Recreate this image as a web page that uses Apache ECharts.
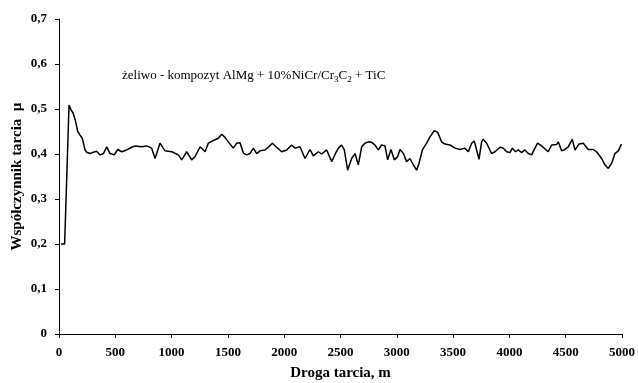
<!DOCTYPE html>
<html>
<head>
<meta charset="utf-8">
<script src="https://cdn.jsdelivr.net/npm/echarts@6/dist/echarts.min.js"></script>
<style>
  html, body { margin: 0; padding: 0; background: #fff; }
  #main { width: 638px; height: 383px; }
</style>
</head>
<body>
<div id="main"></div>
<script>
// droga tarcia [m]
const distance = [
  18, 50, 89, 107, 127, 148, 166, 187, 207, 231, 246, 275, 305, 335, 364, 394, 424, 453, 491, 521,
  557, 601, 646, 675, 734, 778, 823, 853, 897, 941, 1001, 1060, 1090, 1134, 1178, 1208, 1253, 1297,
  1326, 1371, 1415, 1445, 1474, 1504, 1548, 1578, 1608, 1637, 1667, 1696, 1726, 1756, 1785, 1830,
  1859, 1895, 1933, 1978, 2022, 2066, 2096, 2140, 2185, 2229, 2259, 2303, 2333, 2377, 2422, 2451,
  2481, 2510, 2534, 2563, 2599, 2629, 2658, 2688, 2717, 2747, 2777, 2806, 2836, 2865, 2895, 2919,
  2948, 2978, 3007, 3028, 3058, 3087, 3117, 3147, 3176, 3197, 3227, 3265, 3295, 3333, 3363, 3398,
  3428, 3472, 3517, 3561, 3605, 3635, 3665, 3688, 3709, 3730, 3753, 3768, 3798, 3842, 3872, 3916,
  3946, 3975, 4005, 4026, 4055, 4079, 4108, 4138, 4168, 4197, 4227, 4250, 4286, 4322, 4345, 4375,
  4419, 4434, 4464, 4493, 4523, 4558, 4582, 4618, 4656, 4700, 4745, 4774, 4819, 4848, 4878, 4908,
  4937, 4967, 4996
];
// współczynnik tarcia
const friction = [
  0.200, 0.200, 0.509, 0.498, 0.490, 0.472, 0.450, 0.442, 0.435, 0.409, 0.404, 0.401, 0.404, 0.406, 0.398, 0.401, 0.416, 0.401, 0.398, 0.410,
  0.405, 0.409, 0.415, 0.418, 0.416, 0.418, 0.413, 0.390, 0.424, 0.407, 0.405, 0.398, 0.387, 0.405, 0.387, 0.394, 0.416, 0.405,
  0.424, 0.430, 0.435, 0.444, 0.437, 0.427, 0.413, 0.424, 0.425, 0.402, 0.398, 0.401, 0.413, 0.401, 0.407, 0.409,
  0.415, 0.424, 0.415, 0.405, 0.409, 0.420, 0.413, 0.416, 0.390, 0.410, 0.396, 0.405, 0.400, 0.409, 0.383, 0.399,
  0.413, 0.420, 0.409, 0.364, 0.390, 0.401, 0.376, 0.416, 0.424, 0.427, 0.426, 0.420, 0.409, 0.420, 0.418, 0.387,
  0.410, 0.387, 0.394, 0.410, 0.401, 0.383, 0.390, 0.376, 0.364, 0.379, 0.409, 0.424, 0.438, 0.452, 0.448, 0.427,
  0.422, 0.420, 0.413, 0.410, 0.413, 0.405, 0.424, 0.429, 0.409, 0.388, 0.427, 0.433, 0.424, 0.401, 0.405, 0.415,
  0.413, 0.405, 0.403, 0.413, 0.405, 0.409, 0.403, 0.409, 0.401, 0.398, 0.413, 0.424, 0.418, 0.410, 0.405, 0.420,
  0.421, 0.427, 0.407, 0.410, 0.416, 0.433, 0.409, 0.422, 0.424, 0.410, 0.410, 0.405, 0.390, 0.376, 0.368, 0.379,
  0.401, 0.407, 0.422
];
const yTickLabels = ['0', '0,1', '0,2', '0,3', '0,4', '0,5', '0,6', '0,7'];

const chart = echarts.init(document.getElementById('main'));

const serif = '"Liberation Serif", "Times New Roman", serif';

const option = {
  animation: false,
  backgroundColor: '#fff',
  grid: { left: 59, right: 16, top: 19, bottom: 49, containLabel: false, outerBoundsMode: 'none' },
  xAxis: {
    type: 'value',
    min: 0,
    max: 5000,
    interval: 500,
    name: 'Droga tarcia, m',
    nameLocation: 'middle',
    nameGap: 32,
    nameMoveOverlap: false,
    nameTextStyle: { fontFamily: serif, fontWeight: 'bold', fontSize: 15, color: '#000' },
    axisLine: { lineStyle: { color: '#000', width: 1 } },
    axisTick: { show: true, length: 4, lineStyle: { color: '#000' } },
    axisLabel: {
      fontFamily: serif, fontWeight: 'bold', fontSize: 13, color: '#000', margin: 12,
      formatter: function (v) { return String(v); }
    },
    splitLine: { show: false }
  },
  yAxis: {
    type: 'value',
    min: 0,
    max: 0.7,
    interval: 0.1,
    name: 'Współczynnik tarcia  µ',
    nameLocation: 'middle',
    nameGap: 34,
    nameMoveOverlap: false,
    nameTextStyle: { fontFamily: serif, fontWeight: 'bold', fontSize: 15, color: '#000' },
    axisLine: { show: true, lineStyle: { color: '#000', width: 1 } },
    axisTick: { show: true, length: 4, lineStyle: { color: '#000' } },
    axisLabel: {
      fontFamily: serif, fontWeight: 'bold', fontSize: 13, color: '#000', margin: 12,
      formatter: function (v) { return yTickLabels[Math.round(v * 10)]; }
    },
    splitLine: { show: false }
  },
  graphic: [
    {
      type: 'text',
      left: 122,
      top: 67,
      style: {
        text: '{a|żeliwo - kompozyt AlMg + 10%NiCr/Cr}{s|3}{a|C}{s|2}{a| + TiC}',
        rich: {
          a: { fontFamily: serif, fontSize: 13, color: '#000', lineHeight: 18 },
          s: { fontFamily: serif, fontSize: 9, color: '#000', lineHeight: 18, padding: [8, 0, 0, 0] }
        }
      }
    }
  ],
  series: [
    {
      type: 'line',
      data: distance.map((d, i) => [d, friction[i]]),
      showSymbol: false,
      lineStyle: { color: '#000', width: 1.5 },
      itemStyle: { color: '#000' }
    }
  ]
};

chart.setOption(option);
</script>
</body>
</html>
